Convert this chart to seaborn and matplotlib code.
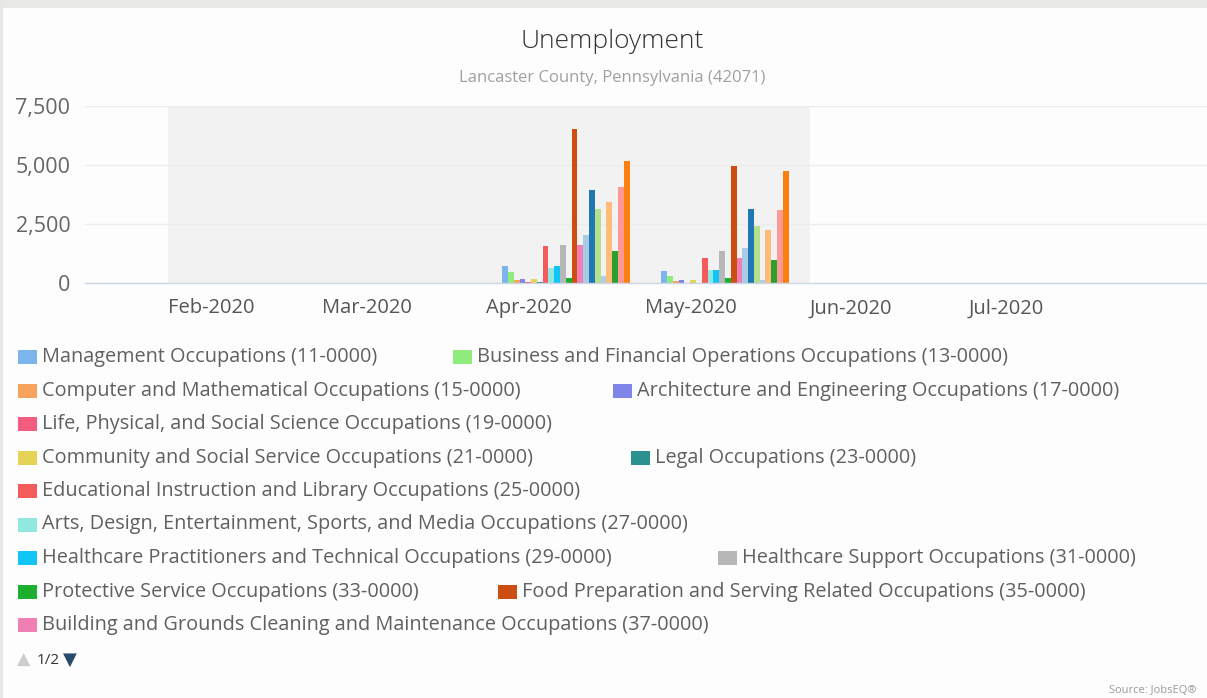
import matplotlib
matplotlib.use("Agg")
import matplotlib.pyplot as plt
import matplotlib.dates as mdates
from matplotlib.patches import Rectangle
import pandas as pd
import seaborn as sns

# --- data -------------------------------------------------------------
occupations = [
    "Management Occupations (11-0000)",
    "Business and Financial Operations Occupations (13-0000)",
    "Computer and Mathematical Occupations (15-0000)",
    "Architecture and Engineering Occupations (17-0000)",
    "Life, Physical, and Social Science Occupations (19-0000)",
    "Community and Social Service Occupations (21-0000)",
    "Legal Occupations (23-0000)",
    "Educational Instruction and Library Occupations (25-0000)",
    "Arts, Design, Entertainment, Sports, and Media Occupations (27-0000)",
    "Healthcare Practitioners and Technical Occupations (29-0000)",
    "Healthcare Support Occupations (31-0000)",
    "Protective Service Occupations (33-0000)",
    "Food Preparation and Serving Related Occupations (35-0000)",
    "Building and Grounds Cleaning and Maintenance Occupations (37-0000)",
    "Personal Care and Service Occupations (39-0000)",
    "Sales and Related Occupations (41-0000)",
    "Office and Administrative Support Occupations (43-0000)",
    "Farming, Fishing, and Forestry Occupations (45-0000)",
    "Construction and Extraction Occupations (47-0000)",
    "Installation, Maintenance, and Repair Occupations (49-0000)",
    "Production Occupations (51-0000)",
    "Transportation and Material Moving Occupations (53-0000)",
]
colors = [
    "#7CB5EC", "#90ED7D", "#F7A35C", "#8085E9", "#F15C80", "#E4D354",
    "#2B908F", "#F45B5B", "#91E8E1", "#11C5F7", "#B7B7B7", "#1DB02F",
    "#CC4E12", "#F07FB4", "#A9CCE6", "#1F77B4", "#B4E08E", "#AECDE8",
    "#FFBB78", "#2CA02C", "#FF9896", "#FF7F0E",
]
periods = ["2020-04-16", "2020-05-16"]
apr_values = [710, 450, 110, 170, 60, 170, 30, 1550, 650, 700, 1590, 230,
              6520, 1590, 2030, 3950, 3120, 310, 3420, 1350, 4060, 5150]
may_values = [510, 310, 70, 140, 20, 115, 20, 1050, 570, 570, 1335, 230,
              4940, 1050, 1475, 3150, 2430, 115, 2230, 990, 3080, 4740]

month_ticks = ["2020-02-01", "2020-03-01", "2020-04-01",
               "2020-05-01", "2020-06-01", "2020-07-01"]
month_labels = ["Feb-2020", "Mar-2020", "Apr-2020",
                "May-2020", "Jun-2020", "Jul-2020"]
band_range = ["2020-02-01", "2020-06-01"]
y_ticks = [0, 2500, 5000, 7500]

# --- frame ------------------------------------------------------------
rows = []
for period, vals in zip(periods, [apr_values, may_values]):
    for occ, v in zip(occupations, vals):
        rows.append({"date": mdates.date2num(pd.Timestamp(period)),
                     "occupation": occ, "value": v})
df = pd.DataFrame(rows)

sns.set_theme(style="white")
plt.rcParams["font.family"] = ["Open Sans", "DejaVu Sans"]

W, H = 1207, 698
fig = plt.figure(figsize=(W / 100, H / 100), dpi=100)
fig.patch.set_facecolor("#FDFDFD")


def fx(x):
    return x / W


def fy(y):
    return 1 - y / H


# outer grey frame
fig.add_artist(Rectangle((0, fy(8)), 1, 8 / H, transform=fig.transFigure,
                         color="#E8E8E6", lw=0, zorder=0))
fig.add_artist(Rectangle((0, 0), 2.5 / W, 1, transform=fig.transFigure,
                         color="#E6E6E6", lw=0, zorder=0))

ax = fig.add_axes([fx(85), fy(283), fx(1207 - 85), (283 - 106) / H])
ax.set_facecolor("none")

sns.barplot(data=df, x="date", y="value", hue="occupation",
            hue_order=occupations, palette=colors, native_scale=True,
            width=0.8, errorbar=None, linewidth=0, legend=False,
            saturation=1, ax=ax)

band = [mdates.date2num(pd.Timestamp(d)) for d in band_range]
ax.axvspan(band[0], band[1], color="#F2F2F2", lw=0, zorder=0)

tick_pos = [mdates.date2num(pd.Timestamp(d)) for d in month_ticks]
px_day = (969 - 168) / (tick_pos[-1] - tick_pos[0])
ax.set_xlim(tick_pos[0] - (168 - 85) / px_day,
            tick_pos[-1] + (1207 - 969) / px_day)
ax.set_ylim(0, 7500)

ax.set_xticks(tick_pos)
ax.set_xticklabels(month_labels, ha="left")
ax.set_yticks(y_ticks)
ax.set_yticklabels([f"{v:,}" for v in y_ticks])
ax.tick_params(axis="x", direction="out", length=7, width=1,
               color="#CCD6EB", pad=4, labelsize=14.5, labelcolor="#555555")
ax.tick_params(axis="y", length=0, pad=10.5, labelsize=15.5,
               labelcolor="#666666")
ax.set_xlabel("")
ax.set_ylabel("")

ax.yaxis.grid(True, color="#ECECEC", lw=1)
ax.set_axisbelow(True)
for side in ["top", "right", "left"]:
    ax.spines[side].set_visible(False)
ax.spines["bottom"].set_color("#CCD6EB")
ax.spines["bottom"].set_linewidth(1)

# --- titles -----------------------------------------------------------
fig.text(fx(612), fy(41), "Unemployment", ha="center", va="center",
         fontsize=19, color="#333333", fontweight="light")
fig.text(fx(612), fy(78), "Lancaster County, Pennsylvania (42071)",
         ha="center", va="center", fontsize=12, color="#A0A0A0")

# --- legend (page 1 of 2) ---------------------------------------------
legend_row = [0, 0, 1, 1, 2, 3, 3, 4, 5, 6, 6, 7, 7, 8]
legend_x = [18, 453, 18, 613, 18, 18, 631, 18, 18, 18, 718, 18, 498, 18]
for i, (r, x0) in enumerate(zip(legend_row, legend_x)):
    yc = 357 + r * 33.5
    fig.add_artist(Rectangle((fx(x0), fy(yc + 7)), 19 / W, 14 / H,
                             transform=fig.transFigure, color=colors[i],
                             lw=0))
    fig.text(fx(x0 + 24), fy(yc), occupations[i], ha="left", va="center",
             fontsize=14.3, color="#606060")

fig.text(fx(17), fy(660), "\u25B2", ha="left", va="center", fontsize=12.5,
         color="#CCCCCC", family=["DejaVu Sans"])
fig.text(fx(37), fy(660), "1/2", ha="left", va="center", fontsize=11,
         color="#333333")
fig.text(fx(63), fy(660), "\u25BC", ha="left", va="center", fontsize=13,
         color="#274B6D", family=["DejaVu Sans"])

fig.text(fx(1196), fy(685), "Source: JobsEQ\u00AE", ha="right", va="top",
         fontsize=8, color="#999999")

fig.savefig("out.png", dpi=100, facecolor=fig.get_facecolor())
